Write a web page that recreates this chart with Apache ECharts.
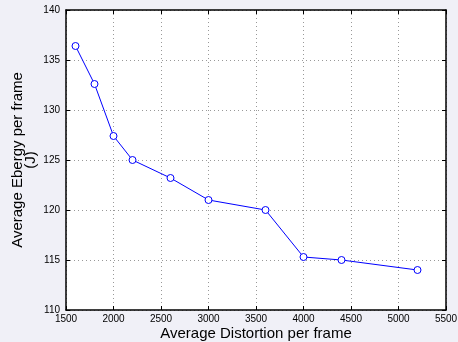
<!DOCTYPE html>
<html><head><meta charset="utf-8">
<script src="https://cdn.jsdelivr.net/npm/echarts@6/dist/echarts.min.js"></script>
<style>html,body{margin:0;padding:0;background:#f0f0f7;}#c{width:458px;height:342px;}</style>
</head><body><div id="c"></div>
<script>
const distortion = [1600, 1800, 2000, 2200, 2600, 3000, 3600, 4000, 4400, 5200];
const energy = [136.4, 132.6, 127.4, 125.0, 123.2, 121.0, 120.0, 115.3, 115.0, 114.0];
const xTicks = [1500, 2000, 2500, 3000, 3500, 4000, 4500, 5000, 5500];
const yTicks = [110, 115, 120, 125, 130, 135, 140];
const xTitle = 'Average Distortion per frame';
const yTitle = 'Average Ebergy per frame\n(J)';

const chart = echarts.init(document.getElementById('c'), null, {renderer: 'canvas'});
const font = 'Liberation Sans, Arial, Helvetica, sans-serif';
const baseX = {
  type: 'value', min: xTicks[0], max: xTicks[xTicks.length-1], interval: xTicks[1]-xTicks[0],
  axisLine: {show: true, onZero: false, lineStyle: {color: '#000', width: 1.5}},
  axisTick: {show: true, inside: true, length: 4, lineStyle: {color: '#000'}},
};
const baseY = {
  type: 'value', min: yTicks[0], max: yTicks[yTicks.length-1], interval: yTicks[1]-yTicks[0],
  axisLine: {show: true, onZero: false, lineStyle: {color: '#000', width: 1.5}},
  axisTick: {show: true, inside: true, length: 4, lineStyle: {color: '#000'}},
};
chart.setOption({
  backgroundColor: '#f0f0f7',
  animation: false,
  grid: {left: 66, top: 10, width: 380, height: 300, backgroundColor: '#fff', show: true, borderWidth: 0,
         containLabel: false, outerBoundsMode: 'none'},
  xAxis: [
    Object.assign({}, baseX, {
      position: 'bottom',
      axisLabel: {color: '#000', fontSize: 10, fontFamily: font, margin: 4, formatter: v => String(v)},
      splitLine: {show: true, lineStyle: {color: '#999', type: [1, 3], width: 1}},
      name: xTitle, nameLocation: 'middle', nameGap: 16, nameMoveOverlap: false,
      nameTextStyle: {color: '#000', fontSize: 15, fontFamily: font}
    }),
    Object.assign({}, baseX, {position: 'top', axisLabel: {show: false}, splitLine: {show: false}})
  ],
  yAxis: [
    Object.assign({}, baseY, {
      position: 'left',
      axisLabel: {color: '#000', fontSize: 10, fontFamily: font, margin: 6, formatter: v => String(v)},
      splitLine: {show: true, lineStyle: {color: '#999', type: [1, 3], width: 1}},
      name: yTitle, nameLocation: 'middle', nameGap: 29, nameMoveOverlap: false,
      nameTextStyle: {color: '#000', fontSize: 15, fontFamily: font, lineHeight: 13}
    }),
    Object.assign({}, baseY, {position: 'right', axisLabel: {show: false}, splitLine: {show: false}})
  ],
  series: [{
    type: 'line',
    data: distortion.map((d, i) => [d, energy[i]]),
    symbol: 'circle', symbolSize: 7,
    itemStyle: {color: '#fff', borderColor: '#0000ff', borderWidth: 1},
    lineStyle: {color: '#0000ff', width: 1},
    z: 5
  }]
});
</script></body></html>
